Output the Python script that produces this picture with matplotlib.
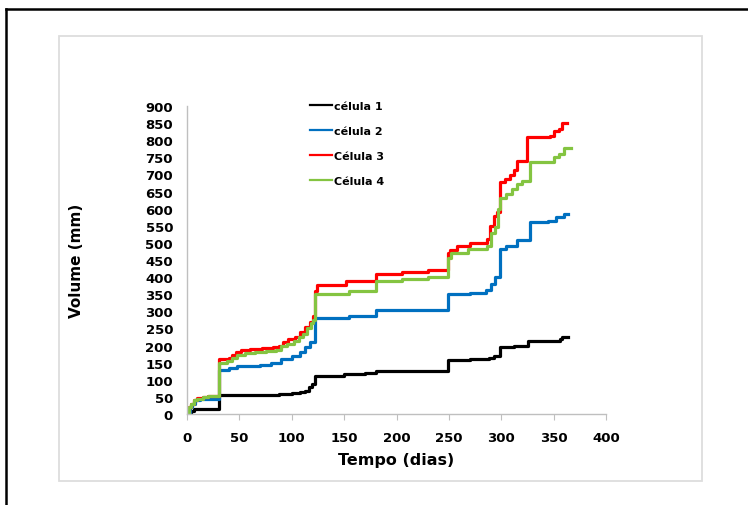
import matplotlib
matplotlib.use('Agg')
import matplotlib.pyplot as plt
from matplotlib.patches import Rectangle
from matplotlib.lines import Line2D

# dados (dia, volume) - degraus
dias_1 = [0, 4, 7, 31, 88, 100, 108, 113, 116, 119, 122, 150, 170, 180, 249, 270, 288, 293, 299, 312, 326, 356, 358, 364]
vol_1 = [0, 8, 15, 55, 57, 60, 63, 68, 80, 88, 112, 116, 120, 126, 158, 160, 165, 170, 195, 198, 213, 218, 225, 225]

dias_2 = [0, 3, 5, 8, 12, 31, 40, 48, 70, 80, 90, 100, 108, 113, 117, 122, 155, 180, 249, 270, 285, 290, 294, 299,
          305, 315, 327, 345, 352, 360, 364]
vol_2 = [0, 20, 30, 40, 45, 130, 135, 140, 143, 148, 160, 170, 180, 195, 210, 280, 287, 305, 350, 355, 362, 380, 400,
         482, 490, 507, 560, 565, 575, 585, 585]

dias_3 = [0, 2, 4, 7, 10, 15, 20, 31, 40, 43, 47, 52, 60, 72, 82, 88, 92, 96, 103, 108, 113, 117, 120, 122, 124, 152,
          180, 205, 230, 249, 251, 258, 270, 286, 289, 293, 296, 299, 304, 308, 312, 315, 325, 347, 350, 355, 358, 363]
vol_3 = [0, 20, 30, 40, 47, 50, 52, 160, 165, 172, 180, 187, 190, 193, 196, 200, 210, 218, 225, 240, 255, 270, 285,
         360, 377, 388, 410, 415, 420, 470, 480, 490, 500, 510, 550, 580, 590, 678, 688, 697, 712, 740, 808, 813, 828,
         833, 850, 850]

dias_4 = [0, 2, 4, 7, 10, 15, 20, 31, 38, 43, 48, 55, 65, 75, 85, 90, 95, 102, 107, 111, 115, 118, 120, 122, 155, 180,
          205, 230, 249, 252, 268, 286, 290, 294, 297, 299, 305, 310, 315, 320, 327, 350, 355, 360, 367]
vol_4 = [0, 20, 30, 40, 45, 50, 52, 148, 155, 165, 172, 177, 180, 183, 188, 198, 205, 212, 225, 235, 250, 265, 275,
         350, 360, 388, 395, 400, 455, 470, 482, 492, 530, 545, 600, 632, 643, 658, 672, 682, 737, 751, 760, 777, 777]

nomes = ['célula 1', 'célula 2', 'Célula 3', 'Célula 4']
cores = ['#000000', '#0070C0', '#FF0000', '#84C441']
series = [(dias_1, vol_1), (dias_2, vol_2), (dias_3, vol_3), (dias_4, vol_4)]

x_ticks = [0, 50, 100, 150, 200, 250, 300, 350, 400]
y_ticks = list(range(0, 901, 50))

fig = plt.figure(figsize=(7.48, 5.06), dpi=100)
fig.patch.set_facecolor('white')

# bordas externas (preta) e interna (cinza claro)
fig.add_artist(Line2D([6 / 748, 6 / 748], [0, 1 - 10 / 506], color='black', lw=1.8))
fig.add_artist(Line2D([6 / 748, 1], [1 - 10 / 506, 1 - 10 / 506], color='black', lw=1.8))
fig.add_artist(Rectangle((59 / 748, 1 - 482 / 506), 643 / 748, 445 / 506, fill=False,
                         edgecolor='#DDDDDD', lw=1.3))

ax = fig.add_axes([187 / 748, 1 - 415 / 506, 419 / 748, 308 / 506])

for (d, v), nome, cor in zip(series, nomes, cores):
    ax.plot(d, v, drawstyle='steps-post', color=cor, lw=2.3, label=nome)

ax.set_xlim(0, 400)
ax.set_ylim(0, 900)
ax.set_xticks(x_ticks)
ax.set_yticks(y_ticks)
ax.tick_params(axis='x', length=4, color='#BFBFBF', direction='out', pad=8)
ax.tick_params(axis='y', length=0, pad=10)
for lab in ax.get_xticklabels() + ax.get_yticklabels():
    lab.set_fontweight('bold')
    lab.set_fontsize(9.5)

for s in ['top', 'right']:
    ax.spines[s].set_visible(False)
for s in ['left', 'bottom']:
    ax.spines[s].set_color('#BFBFBF')
    ax.spines[s].set_linewidth(1.0)

ax.set_xlabel('Tempo (dias)', fontsize=11.5, fontweight='bold', labelpad=6)
ax.set_ylabel('Volume (mm)', fontsize=11, fontweight='bold', labelpad=44)

leg = ax.legend(loc='upper left', bbox_to_anchor=(0.27, 1.05), frameon=False,
                prop={'weight': 'bold', 'size': 8}, handlelength=2.0, handletextpad=0.15,
                labelspacing=1.35)
for h in leg.get_lines():
    h.set_linewidth(1.6)

fig.savefig('out.png', dpi=100)
